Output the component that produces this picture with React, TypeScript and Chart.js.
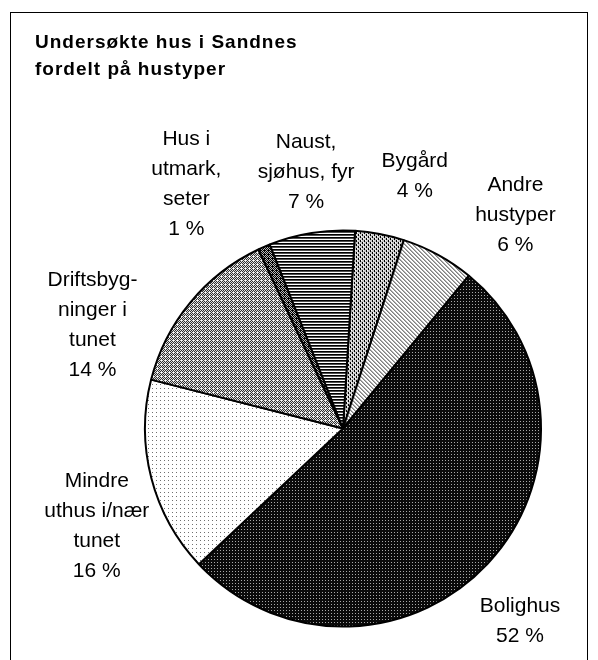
import React, { useEffect, useRef } from "react";
import { Chart, registerables } from "chart.js";

Chart.register(...registerables);

// ---- data ----
const categories = [
  "Bygård",
  "Andre hustyper",
  "Bolighus",
  "Mindre uthus i/nær tunet",
  "Driftsbygninger i tunet",
  "Hus i utmark, seter",
  "Naust, sjøhus, fyr",
];
const shares = [4, 6, 52, 16, 14, 1, 7];
const labelLines = [
  ["Bygård"],
  ["Andre", "hustyper"],
  ["Bolighus"],
  ["Mindre", "uthus i/nær", "tunet"],
  ["Driftsbyg-", "ninger i", "tunet"],
  ["Hus i", "utmark,", "seter"],
  ["Naust,", "sjøhus, fyr"],
];
const titleLines = ["Undersøkte hus i Sandnes", "fordelt på hustyper"];

// ---- layout (label placement relative to slice mid-angle) ----
const labelAngleNudge = [5.2, 10.3, 4.4, -7.2, -17.1, -9.2, 0.9]; // degrees
const labelGap = [64, 76, 64, 67, 73, 92, 61]; // px beyond outer radius

type PatternSpec = { w: number; h: number; bg: string; px: [number, number, string][] };

function makePattern(spec: PatternSpec): CanvasPattern | string {
  const c = document.createElement("canvas");
  c.width = spec.w;
  c.height = spec.h;
  const g = c.getContext("2d")!;
  g.fillStyle = spec.bg;
  g.fillRect(0, 0, spec.w, spec.h);
  for (const [x, y, col] of spec.px) {
    g.fillStyle = col;
    g.fillRect(x, y, 1, 1);
  }
  return g.createPattern(c, "repeat") || spec.bg;
}

function buildPatterns(): (CanvasPattern | string)[] {
  const K = "#000000";
  const W = "#ffffff";
  const G = "#808080";
  // Bygård: gray with vertical dashes
  const bygard: PatternSpec = {
    w: 4, h: 4, bg: "#c8c8c8",
    px: [[0, 0, K], [0, 1, K], [2, 2, K], [2, 3, K], [1, 0, W], [3, 2, W]],
  };
  // Andre: light diagonal hatch
  const andre: PatternSpec = {
    w: 4, h: 4, bg: W,
    px: [[0, 0, G], [1, 1, G], [2, 2, G], [3, 3, G], [1, 0, "#b0b0b0"], [2, 1, "#b0b0b0"], [3, 2, "#b0b0b0"], [0, 3, "#b0b0b0"]],
  };
  // Bolighus: black with light dots grid
  const bolig: PatternSpec = {
    w: 3, h: 3, bg: "#0a0a0a",
    px: [[1, 1, "#a8a8a8"]],
  };
  // Mindre uthus: white with sparse gray dots
  const mindre: PatternSpec = {
    w: 4, h: 4, bg: W,
    px: [[0, 0, "#707070"]],
  };
  // Drifts: medium gray checker with white dots
  const driftPx: [number, number, string][] = [];
  for (let y = 0; y < 4; y++)
    for (let x = 0; x < 4; x++) if ((x + y) % 2 === 1) driftPx.push([x, y, "#303030"]);
  driftPx.push([1, 0, W]);
  const drift: PatternSpec = { w: 4, h: 4, bg: "#e0e0e0", px: driftPx };
  // Hus i utmark: darker checker
  const husPx: [number, number, string][] = [];
  for (let y = 0; y < 4; y++)
    for (let x = 0; x < 4; x++) if ((x + y) % 2 === 1 || (x === 0 && y === 2)) husPx.push([x, y, K]);
  const hus: PatternSpec = { w: 4, h: 4, bg: "#b8b8b8", px: husPx };
  // Naust: horizontal black lines
  const naust: PatternSpec = {
    w: 1, h: 3, bg: W,
    px: [[0, 0, K], [0, 1, "#505050"]],
  };
  return [bygard, andre, bolig, mindre, drift, hus, naust].map(makePattern);
}

const decorPlugin = {
  id: "decor",
  afterDraw(chart: any) {
    const ctx: CanvasRenderingContext2D = chart.ctx;
    ctx.save();
    // frame
    ctx.strokeStyle = "#000";
    ctx.lineWidth = 1;
    ctx.strokeRect(10.5, 12.5, 577, 660);

    // title
    ctx.fillStyle = "#000";
    ctx.textAlign = "left";
    ctx.textBaseline = "alphabetic";
    ctx.font = "bold 19px 'Liberation Sans', Arial, sans-serif";
    (ctx as any).letterSpacing = "1px";
    titleLines.forEach((t, i) => ctx.fillText(t, 35, 48 + i * 27));
    (ctx as any).letterSpacing = "0px";

    // labels
    const meta = chart.getDatasetMeta(0);
    ctx.font = "21px 'Liberation Sans', Arial, sans-serif";
    ctx.textAlign = "center";
    ctx.textBaseline = "middle";
    const lh = 30;
    meta.data.forEach((arc: any, i: number) => {
      const p = arc.getProps(["x", "y", "startAngle", "endAngle", "outerRadius"], true);
      const mid = (p.startAngle + p.endAngle) / 2 + (labelAngleNudge[i] * Math.PI) / 180;
      const d = p.outerRadius + labelGap[i];
      const cx = p.x + Math.cos(mid) * d;
      const cy = p.y + Math.sin(mid) * d;
      const lines = [...labelLines[i], `${shares[i]} %`];
      const y0 = cy - ((lines.length - 1) * lh) / 2;
      lines.forEach((l, j) => ctx.fillText(l, cx, y0 + j * lh));
    });
    ctx.restore();
  },
};

export default function App() {
  const ref = useRef<HTMLCanvasElement | null>(null);
  useEffect(() => {
    if (!ref.current) return;
    const patterns = buildPatterns();
    const chart = new Chart(ref.current, {
      type: "pie",
      data: {
        labels: categories,
        datasets: [
          {
            data: shares,
            backgroundColor: patterns as any,
            borderColor: "#000",
            borderWidth: 2,
            hoverOffset: 0,
          },
        ],
      },
      options: {
        responsive: false,
        animation: false,
        rotation: 3.5,
        layout: { padding: { left: 144, right: 56, top: 229, bottom: 32 } },
        plugins: {
          legend: { display: false },
          tooltip: { enabled: false },
          title: { display: false },
        },
        events: [],
      },
      plugins: [decorPlugin],
    });
    return () => chart.destroy();
  }, []);
  return (
    <div style={{ position: "absolute", left: 0, top: 0, width: 598, height: 660, background: "#fff" }}>
      <canvas ref={ref} width={598} height={660} style={{ display: "block" }} />
    </div>
  );
}
